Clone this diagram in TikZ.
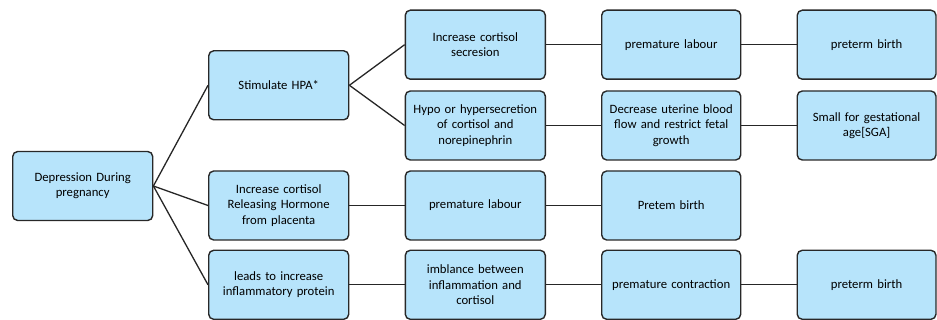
\documentclass[tikz,border=0pt]{standalone}
\usepackage{fontspec}
\setmainfont{Carlito}
\definecolor{boxfill}{RGB}{183,228,251}
\definecolor{boxline}{RGB}{40,40,40}
\begin{document}
\begin{tikzpicture}[x=1pt,y=1pt,
  box/.style={draw=boxline, fill=boxfill, line width=1.4pt, rounded corners=5pt,
    minimum width=140pt, minimum height=69pt, align=center, text width=138pt,
    inner sep=0pt, font=\fontsize{12.7}{15.3}\selectfont, text=black},
  link/.style={draw=black!85, line width=1.3pt}]
\useasboundingbox (0,0) rectangle (937,-320);
\node[box] (dep) at (82.7,-186) {Depression During\\pregnancy};
\node[box] (hpa) at (278.7,-85.3) {Stimulate HPA*};
\node[box] (crh) at (278.7,-205.5) {Increase cortisol\\Releasing Hormone\\from placenta};
\node[box] (inf) at (278.7,-284.8) {leads to increase\\inflammatory protein};
\node[box] (sec) at (475.3,-44.7) {Increase cortisol\\secresion};
\node[box] (hypo) at (475.3,-125.5) {Hypo or hypersecretion\\of cortisol and\\norepinephrin};
\node[box] (pl2) at (475.3,-205.5) {premature labour};
\node[box] (imb) at (475.3,-284.8) {imblance between\\inflammation and\\cortisol};
\node[box, minimum width=139pt] (pl1) at (671.2,-44.7) {premature labour};
\node[box, minimum width=139pt] (dec) at (671.2,-125.5) {Decrease uterine blood\\flow and restrict fetal\\growth};
\node[box, minimum width=139pt] (pb2) at (671.2,-205.5) {Pretem birth};
\node[box, minimum width=139pt] (con) at (671.2,-284.8) {premature contraction};
\node[box, minimum width=138.7pt] (pb1) at (866.6,-44.7) {preterm birth};
\node[box, minimum width=138.7pt] (sga) at (866.6,-125.5) {Small for gestational\\age[SGA]};
\node[box, minimum width=138.7pt] (pb3) at (866.6,-284.8) {preterm birth};
\draw[link] (dep.east) -- (hpa.west);
\draw[link] (dep.east) -- (crh.west);
\draw[link] (dep.east) -- (inf.west);
\draw[link] (hpa.east) -- (sec.west);
\draw[link] (hpa.east) -- (hypo.west);
\draw[link] (sec) -- (pl1);
\draw[link] (pl1) -- (pb1);
\draw[link] (hypo) -- (dec);
\draw[link] (dec) -- (sga);
\draw[link] (crh) -- (pl2);
\draw[link] (pl2) -- (pb2);
\draw[link] (inf) -- (imb);
\draw[link] (imb) -- (con);
\draw[link] (con) -- (pb3);
\end{tikzpicture}
\end{document}
